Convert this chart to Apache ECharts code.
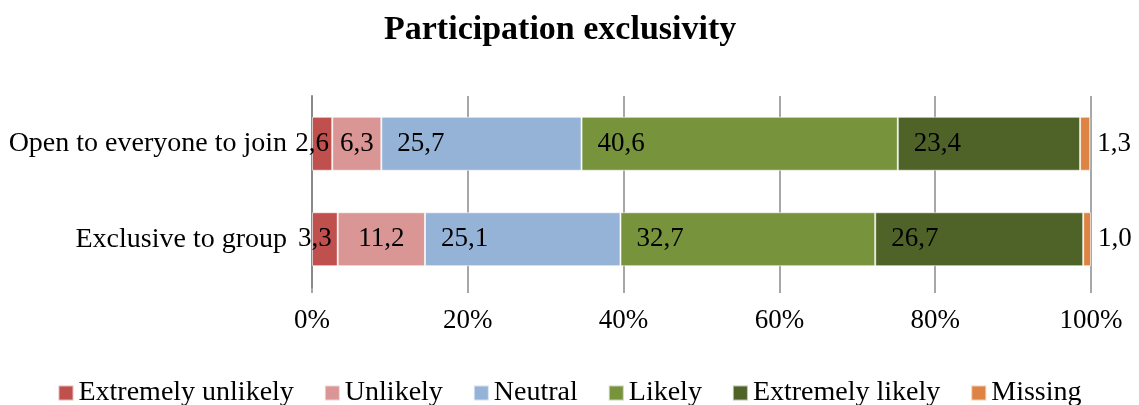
<!DOCTYPE html>
<html>
<head>
<meta charset="utf-8">
<script src="https://cdn.jsdelivr.net/npm/echarts@6/dist/echarts.min.js"></script>
<style>
  html, body { margin: 0; padding: 0; background: #fff; }
  #chart { width: 1139px; height: 405px; }
</style>
</head>
<body>
<div id="chart"></div>
<script>
// Survey answers per question, percentages of respondents
const categories = ['Open to everyone to join', 'Exclusive to group'];
const seriesNames = ['Extremely unlikely', 'Unlikely', 'Neutral', 'Likely', 'Extremely likely', 'Missing'];
const extremelyUnlikely = [2.6, 3.3];
const unlikely = [6.3, 11.2];
const neutral = [25.7, 25.1];
const likely = [40.6, 32.7];
const extremelyLikely = [23.4, 26.7];
const missing = [1.3, 1.0];
const xTicks = [0, 20, 40, 60, 80, 100];

const values = [extremelyUnlikely, unlikely, neutral, likely, extremelyLikely, missing];
const colors = ['#C0504D', '#D99694', '#95B3D7', '#77933C', '#4F6228', '#DD8343'];

const FONT = 'Liberation Serif';
const GRID_COLOR = '#8a8a8a';

// Where each series puts its value label
const labelPlacement = [
  { position: 'inside', offset: [-10, 0] },
  { position: 'inside' },
  { position: 'insideLeft', distance: 16 },
  { position: 'insideLeft', distance: 16 },
  { position: 'insideLeft', distance: 16 },
  { position: 'right', distance: 7 }
];

const fmt = v => v.toFixed(1).replace('.', ',');

const series = seriesNames.map((name, i) => ({
  name: name,
  type: 'bar',
  stack: 'total',
  barWidth: 54,
  data: values[i],
  itemStyle: { color: colors[i], borderColor: 'rgba(255,255,255,0.6)', borderWidth: 1 },
  label: Object.assign({
    show: true,
    color: '#000',
    fontFamily: FONT,
    fontSize: 27,
    formatter: p => fmt(p.value)
  }, labelPlacement[i]),
  emphasis: { disabled: true }
}));

const chart = echarts.init(document.getElementById('chart'), null, { renderer: 'canvas' });
chart.setOption({
  animation: false,
  title: {
    text: 'Participation exclusivity',
    left: 379,
    top: 8,
    textStyle: { fontFamily: FONT, fontWeight: 'bold', fontSize: 34, color: '#000' }
  },
  legend: {
    data: seriesNames,
    top: 374,
    left: 'center',
    itemWidth: 15,
    itemHeight: 15,
    itemGap: 30,
    icon: 'rect',
    textStyle: { fontFamily: FONT, fontSize: 28, color: '#000' }
  },
  grid: { left: 312, right: 48, top: 96, bottom: 118, containLabel: false },
  xAxis: {
    type: 'value',
    min: xTicks[0],
    max: xTicks[xTicks.length - 1],
    interval: xTicks[1] - xTicks[0],
    axisLine: { show: false },
    axisTick: { show: true, length: 6, lineStyle: { color: GRID_COLOR, width: 1.5 } },
    splitLine: { show: true, lineStyle: { color: GRID_COLOR, width: 1.5 } },
    axisLabel: {
      margin: 20,
      fontFamily: FONT,
      fontSize: 27,
      color: '#000',
      formatter: '{value}%'
    }
  },
  yAxis: {
    type: 'category',
    data: categories,
    inverse: true,
    axisLine: { show: true, lineStyle: { color: GRID_COLOR, width: 2 } },
    axisTick: { show: false },
    axisLabel: { margin: 25, fontFamily: FONT, fontSize: 28, color: '#000' }
  },
  series: series
});
</script>
</body>
</html>
